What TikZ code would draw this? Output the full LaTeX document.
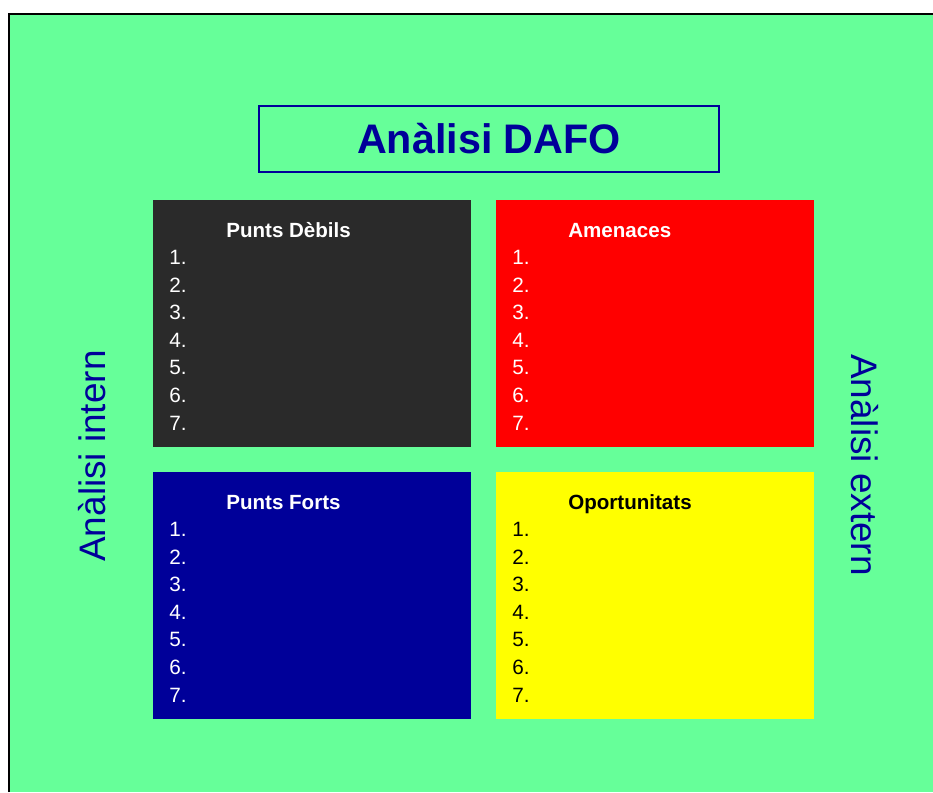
\documentclass[tikz,border=0pt]{standalone}
\usepackage{fontspec}
\setmainfont{Liberation Sans}
\definecolor{dafogreen}{HTML}{66FF99}
\definecolor{dafonavy}{HTML}{000099}
\definecolor{dafodark}{HTML}{2A2A2A}
\definecolor{dafored}{HTML}{FF0000}
\definecolor{dafoyellow}{HTML}{FFFF00}
\begin{document}
\begin{tikzpicture}[x=0.02cm,y=-0.02cm]
      \tikzstyle{quad}=[minimum width=6.36cm,minimum height=4.94cm,anchor=north west,inner sep=0pt]
      \tikzstyle{head}=[anchor=base west,inner sep=0pt,font=\bfseries\fontsize{11.7}{14}\selectfont]
      \tikzstyle{items}=[anchor=north west,inner sep=0pt,align=left,font=\fontsize{11.8}{15.7}\selectfont]
      \tikzstyle{side}=[dafonavy,inner sep=0pt,font=\fontsize{21}{24}\selectfont]
      \useasboundingbox (0,0) rectangle (933,792);
      \path[fill=dafogreen] (9,14) rectangle (933,792);
      \draw[line width=1.1pt] (9,792) -- (9,14) -- (933,14);
      \node[draw=dafonavy,line width=0.8pt,text=dafonavy,minimum width=9.2cm,minimum height=1.32cm,
        font=\bfseries\fontsize{23.5}{28}\selectfont] (title) at (489,139) {Anàlisi DAFO};
      \node[quad,fill=dafodark] (debils) at (153,200) {};
      \node[quad,fill=dafored] (amenaces) at (496,200) {};
      \node[quad,fill=dafonavy] (forts) at (153,472) {};
      \node[quad,fill=dafoyellow] (oportunitats) at (496,472) {};
      \node[head,white] (debilsT) at (226,237) {Punts Dèbils};
      \node[head,white] (amenacesT) at (568,237) {Amenaces};
      \node[head,white] (fortsT) at (226,509) {Punts Forts};
      \node[head,black] (oportunitatsT) at (568,509) {Oportunitats};
      \node[items,white] (debilsL) at (169,250) {1.\\2.\\3.\\4.\\5.\\6.\\7.};
      \node[items,white] (amenacesL) at (512,250) {1.\\2.\\3.\\4.\\5.\\6.\\7.};
      \node[items,white] (fortsL) at (169,522) {1.\\2.\\3.\\4.\\5.\\6.\\7.};
      \node[items,black] (oportunitatsL) at (512,522) {1.\\2.\\3.\\4.\\5.\\6.\\7.};
      \node[side,rotate=90] (intern) at (92,456) {Anàlisi intern};
      \node[side,rotate=-90] (extern) at (865,465) {Anàlisi extern};
    \end{tikzpicture}
\end{document}
